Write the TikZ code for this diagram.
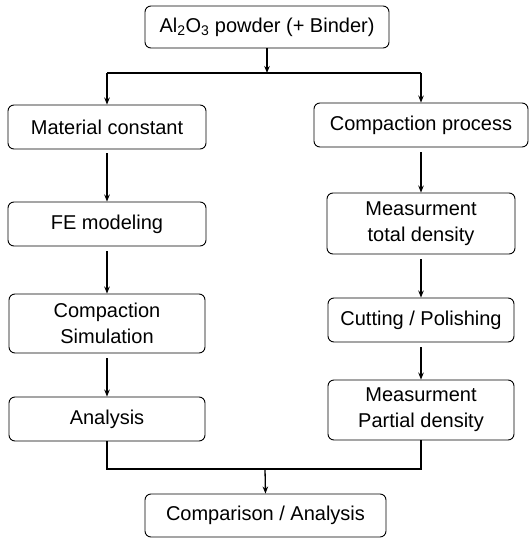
\documentclass[tikz,border=0pt]{standalone}
\usepackage{fontspec}
\setmainfont{Liberation Sans}
\usetikzlibrary{arrows.meta}
\begin{document}
\begin{tikzpicture}[x=1pt,y=-1pt,
  box/.style={draw, line width=0.9pt, rounded corners=6pt, inner sep=0pt, align=center,
    font=\fontsize{20}{26}\selectfont},
  conn/.style={line width=1.3pt},
  arr/.style={conn, -{Stealth[length=7pt,width=5.5pt]}}]
\useasboundingbox (0,0) rectangle (531,538);
\node[box, minimum width=244pt, minimum height=42pt] (top) at (267,27) {Al\textsubscript{2}O\textsubscript{3} powder (+ Binder)};
\node[box, minimum width=198pt, minimum height=44pt] (mat) at (107,127) {Material constant};
\node[box, minimum width=198pt, minimum height=44pt] (fe) at (107,224) {FE modeling};
\node[box, minimum width=196pt, minimum height=59pt] (sim) at (107,323.5) {Compaction\\Simulation};
\node[box, minimum width=196pt, minimum height=44pt] (ana) at (107,419) {Analysis};
\node[box, minimum width=214pt, minimum height=44pt] (proc) at (421,125) {Compaction process};
\node[box, minimum width=188pt, minimum height=61pt] (tot) at (421,223.5) {Measurment\\total density};
\node[box, minimum width=186pt, minimum height=44pt] (cut) at (421,320) {Cutting / Polishing};
\node[box, minimum width=186pt, minimum height=60pt] (par) at (421,410) {Measurment\\Partial density};
\node[box, minimum width=241pt, minimum height=43pt] (cmp) at (265.5,515.5) {Comparison / Analysis};
\coordinate (j1) at (267,73);
\coordinate (j2) at (265,469);
\draw[arr] (top.south) -- (j1);
\draw[conn] (mat.north |- j1) -- (proc.north |- j1);
\draw[arr] (mat.north |- j1) -- (mat.north);
\draw[arr] (proc.north |- j1) -- (proc.north);
\draw[arr, shorten <=4pt] (mat) -- (fe);
\draw[arr, shorten <=5pt] (fe) -- (sim);
\draw[arr, shorten <=5pt] (sim) -- (ana);
\draw[arr, shorten <=5pt] (proc) -- (tot);
\draw[arr, shorten <=5pt] (tot) -- (cut);
\draw[arr, shorten <=5pt] (cut) -- (par);
\draw[conn] (ana.south) -- (ana.south |- j2) -- (par.south |- j2) -- (par.south);
\draw[arr] (j2) -- (cmp.north);
\end{tikzpicture}
\end{document}
